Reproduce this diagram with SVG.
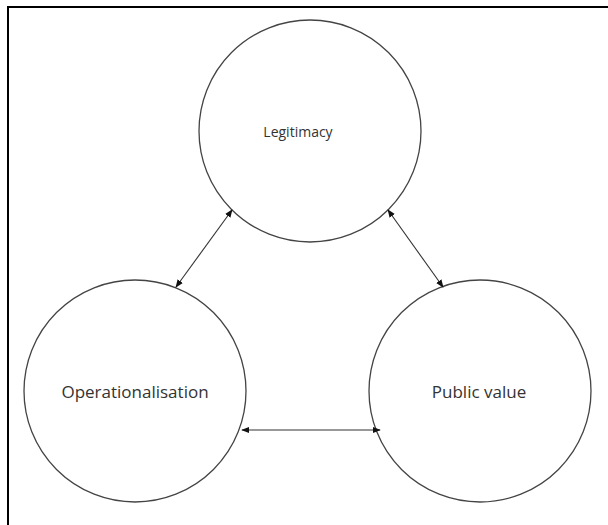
<svg xmlns="http://www.w3.org/2000/svg" width="608" height="525" viewBox="0 0 608 525">
<defs>
<marker id="ah" viewBox="0 0 10 10" refX="9" refY="5" markerWidth="8" markerHeight="8" orient="auto-start-reverse" markerUnits="userSpaceOnUse">
<path d="M0,1 L10,5 L0,9 z" fill="#111"/>
</marker>
<style>
.n{fill:#fff;stroke:#444;stroke-width:1.3}
.t{font-family:"Open Sans","Liberation Sans",sans-serif;fill:#333;text-anchor:middle;dominant-baseline:central}
.c{stroke:#333;stroke-width:1.1;fill:none;marker-start:url(#ah);marker-end:url(#ah)}
</style>
</defs>
<rect width="608" height="525" fill="#fff"/>
<path d="M8,525 V7 H608" fill="none" stroke="#000" stroke-width="2"/>
<g id="legitimacy"><circle class="n" cx="310" cy="131" r="111"/><text class="t" x="298" y="131" font-size="14">Legitimacy</text></g>
<g id="operationalisation"><circle class="n" cx="135" cy="391" r="111"/><text class="t" x="135" y="391" font-size="17">Operationalisation</text></g>
<g id="publicvalue"><circle class="n" cx="480" cy="391" r="111"/><text class="t" x="479" y="391" font-size="17">Public value</text></g>
<g id="connectors">
<line class="c" x1="176" y1="287" x2="232" y2="210"/>
<line class="c" x1="388" y1="210" x2="443" y2="287"/>
<line class="c" x1="242" y1="430" x2="380" y2="430"/>
</g>
</svg>
